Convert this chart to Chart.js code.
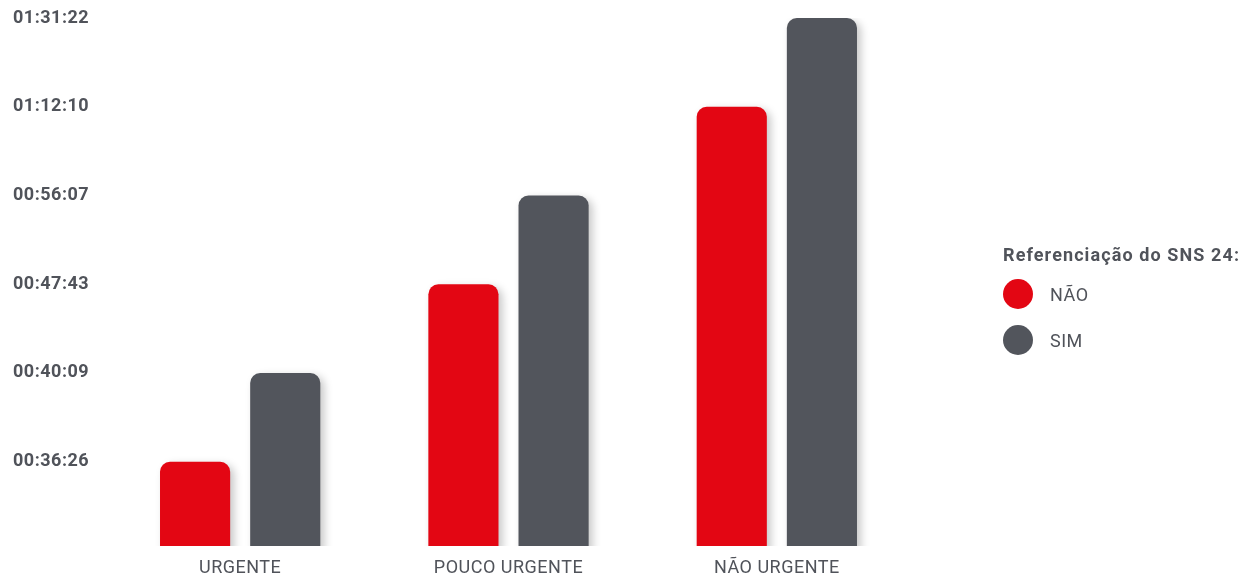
<!DOCTYPE html>
<html lang="pt">
<head>
<meta charset="utf-8">
<script src="https://cdn.jsdelivr.net/npm/chart.js@4.4.1/dist/chart.umd.min.js"></script>
<style>
  html, body { margin: 0; padding: 0; background: #fff; }
  #wrap { position: relative; width: 1243px; height: 575px; }
  #legend {
    position: absolute; left: 1003px; top: 243px;
    font-family: Roboto, sans-serif; color: #50535a; letter-spacing: 1.1px;
  }
  #legend .title { font-weight: bold; font-size: 18px; line-height: 24px; margin-bottom: 12px; }
  #legend .item { display: flex; align-items: center; height: 30px; margin-bottom: 16px; font-size: 18px; letter-spacing: 0.5px; }
  #legend .dot { width: 30px; height: 30px; border-radius: 50%; margin-right: 17px; }
</style>
</head>
<body>
<div id="wrap">
  <canvas id="temposChart" width="1243" height="575"></canvas>
  <div id="legend"></div>
</div>
<script>
const categorias = ['URGENTE', 'POUCO URGENTE', 'NÃO URGENTE'];
const temposNao = ['00:36:26', '00:47:43', '01:12:10'];
const temposSim = ['00:40:09', '00:56:07', '01:31:22'];
const tickLabels = ['00:36:26', '00:40:09', '00:47:43', '00:56:07', '01:12:10', '01:31:22'];
const legendaTitulo = 'Referenciação do SNS 24:';
const series = [
    { nome: 'NÃO', valores: temposNao, cor: '#e30613' },
    { nome: 'SIM', valores: temposSim, cor: '#52555c' }
];

// o eixo vertical do gráfico original é ordinal: cada tempo ocupa um degrau
const posicao = t => tickLabels.indexOf(t) + 1;

const textColor = '#50535a';

// sombra suave nas barras
const barShadow = {
    id: 'barShadow',
    beforeDatasetsDraw(chart) {
        const c = chart.ctx;
        c.save();
        c.shadowColor = 'rgba(0, 0, 0, 0.22)';
        c.shadowBlur = 9;
        c.shadowOffsetX = 4;
        c.shadowOffsetY = 3;
    },
    afterDatasetsDraw(chart) {
        chart.ctx.restore();
    }
};

const letterSpacing = {
    id: 'letterSpacing',
    beforeLayout(chart) { chart.ctx.letterSpacing = '0.5px'; },
    beforeDraw(chart) { chart.ctx.letterSpacing = '0.5px'; }
};

const ctx = document.getElementById('temposChart');

new Chart(ctx, {
    type: 'bar',
    data: {
        labels: categorias,
        datasets: series.map(s => ({
            label: s.nome,
            data: s.valores.map(posicao),
            backgroundColor: s.cor,
            borderRadius: 10,
            categoryPercentage: 0.672,
            barPercentage: 0.778
        }))
    },
    options: {
        responsive: false,
        animation: false,
        layout: { padding: { left: 13, right: 332, top: 18, bottom: 0 } },
        scales: {
            x: {
                grid: { display: false, drawTicks: false },
                border: { display: false },
                afterFit: scale => { scale.height = 29; },
                ticks: {
                    color: textColor,
                    font: { family: 'Roboto', size: 18 },
                    padding: 12
                }
            },
            y: {
                min: 0.05,
                max: 6,
                grid: { display: false, drawTicks: false },
                border: { display: false },
                afterFit: scale => { scale.width = 93; },
                afterBuildTicks: scale => {
                    scale.ticks = tickLabels.map((_, i) => ({ value: i + 1 }));
                },
                ticks: {
                    color: textColor,
                    font: { family: 'Roboto', size: 18, weight: 'bold' },
                    crossAlign: 'far',
                    padding: 0,
                    callback: value => tickLabels[value - 1] || ''
                }
            }
        },
        plugins: {
            legend: { display: false },
            tooltip: { enabled: false }
        }
    },
    plugins: [barShadow, letterSpacing]
});

// legenda em HTML
const legend = document.getElementById('legend');
let html = '<div class="title">' + legendaTitulo + '</div>';
series.forEach(s => {
    html += '<div class="item"><span class="dot" style="background:' + s.cor + '"></span>' + s.nome + '</div>';
});
legend.innerHTML = html;
</script>
</body>
</html>
